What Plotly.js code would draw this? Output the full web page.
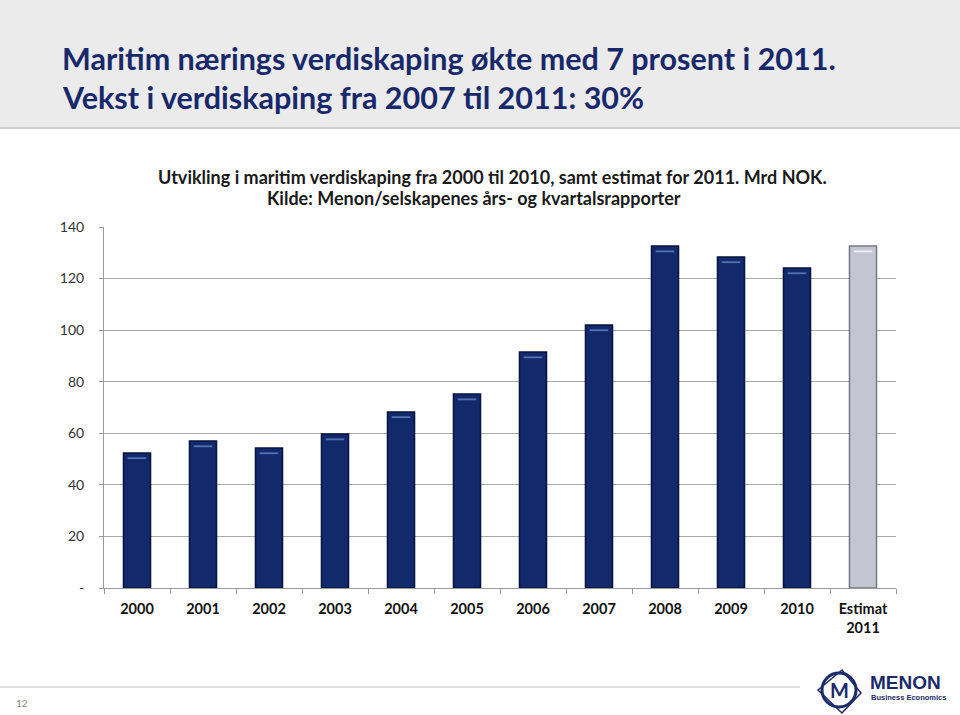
<!DOCTYPE html>
<html>
<head>
<meta charset="utf-8">
<script src="https://cdn.plot.ly/plotly-3.0.1.min.js"></script>
<style>html,body{margin:0;padding:0;background:#fff;}#chart{width:960px;height:715px;}</style>
</head>
<body>
<div id="chart"></div>
<script>
// Data
const categories = ["2000","2001","2002","2003","2004","2005","2006","2007","2008","2009","2010","Estimat<br>2011"];
const values = [52.4, 57.0, 54.3, 59.7, 68.3, 75.2, 91.5, 102.0, 132.6, 128.4, 124.1, 132.6];
const estimateFlags = [false,false,false,false,false,false,false,false,false,false,false,true];
const yTickValues = [0, 20, 40, 60, 80, 100, 120, 140];
const yTickLabels = ["-", "20", "40", "60", "80", "100", "120", "140"];

const W = 960, H = 715;
const L = 104, R = 896, T = 227, B = 588;
const px = X => (X - L) / (R - L);
const py = Y => (B - Y) / (B - T);

const barColors = estimateFlags.map(f => f ? "#c4c5d2" : "#122a6c");
const barLines = estimateFlags.map(f => f ? "#77787f" : "#07143d");
const capColors = estimateFlags.map(f => f ? "rgba(245,245,250,0.9)" : "rgba(110,140,200,0.75)");

const trace = {
  type: "bar",
  x: categories,
  y: values,
  width: 0.41,
  marker: { color: barColors, line: { color: barLines, width: 1.5 } },
  hoverinfo: "x+y"
};

// bevel highlight near each bar's top, derived from the values
const capTrace = {
  type: "bar",
  x: categories,
  y: values.map(() => 0.7),
  base: values.map(v => v - 2.4),
  width: 0.28,
  marker: { color: capColors, line: { width: 0 } },
  hoverinfo: "skip"
};

const font = "Lato, 'Open Sans', sans-serif";

const layout = {
  width: W, height: H,
  margin: { l: L, r: W - R, t: T, b: H - B, pad: 0 },
  paper_bgcolor: "#ffffff",
  plot_bgcolor: "#ffffff",
  showlegend: false,
  barmode: "overlay",
  font: { family: font, color: "#222" },
  xaxis: {
    type: "category",
    showgrid: false,
    showline: true, linecolor: "#9a9a9a", linewidth: 1,
    ticks: "outside", ticklen: 5, tickcolor: "#9a9a9a",
    tickson: "boundaries",
    ticklabelstandoff: 8,
    tickfont: { family: font, size: 14.5, color: "#111", weight: "bold" },
    fixedrange: true
  },
  yaxis: {
    range: [0, 140],
    tickvals: yTickValues,
    ticktext: yTickLabels,
    showgrid: true, gridcolor: "#a8a8a8", gridwidth: 1.2,
    showline: true, linecolor: "#9a9a9a", linewidth: 1,
    ticks: "outside", ticklen: 4, tickcolor: "#9a9a9a",
    ticklabelstandoff: 12,
    tickfont: { family: font, size: 14, color: "#333" },
    zeroline: false,
    fixedrange: true
  },
  shapes: [
    // header band
    { type: "rect", xref: "paper", yref: "paper", x0: px(0), x1: px(W), y0: py(128), y1: py(0),
      fillcolor: "#ebebeb", line: { width: 0 }, layer: "below" },
    { type: "line", xref: "paper", yref: "paper", x0: px(0), x1: px(W), y0: py(128), y1: py(128),
      line: { color: "#cfcfcf", width: 2 } },
    // footer line
    { type: "line", xref: "paper", yref: "paper", x0: px(0), x1: px(800), y0: py(687), y1: py(687),
      line: { color: "#d6d6d6", width: 1.5 } },
    // logo
    { type: "circle", xref: "paper", yref: "paper", x0: px(822), x1: px(856), y0: py(707), y1: py(673),
      line: { color: "#1b2a6b", width: 3 }, fillcolor: "rgba(0,0,0,0)" },
    { type: "path", xref: "paper", yref: "paper",
      path: `M ${px(818)} ${py(690)} L ${px(842)} ${py(670)} L ${px(861)} ${py(693)} L ${px(842)} ${py(713)} Z`,
      line: { color: "#1b2a6b", width: 1.5 } }
  ],
  annotations: [
    { xref: "paper", yref: "paper", x: px(60), y: py(58), xanchor: "left", yanchor: "middle",
      text: "<b>Maritim nærings verdiskaping økte med 7 prosent i 2011.</b>", showarrow: false,
      font: { family: font, size: 30.5, color: "#17286b" } },
    { xref: "paper", yref: "paper", x: px(60), y: py(97), xanchor: "left", yanchor: "middle",
      text: "<b>Vekst i verdiskaping fra 2007 til 2011: 30%</b>", showarrow: false,
      font: { family: font, size: 30.5, color: "#17286b" } },
    { xref: "paper", yref: "paper", x: px(492), y: py(177), xanchor: "center", yanchor: "middle",
      text: "<b>Utvikling i maritim verdiskaping fra 2000 til 2010, samt estimat for 2011. Mrd NOK.</b>", showarrow: false,
      font: { family: font, size: 18, color: "#1a1a1a" } },
    { xref: "paper", yref: "paper", x: px(474), y: py(198), xanchor: "center", yanchor: "middle",
      text: "<b>Kilde: Menon/selskapenes års- og kvartalsrapporter</b>", showarrow: false,
      font: { family: font, size: 18, color: "#1a1a1a" } },
    { xref: "paper", yref: "paper", x: px(22), y: py(703), xanchor: "center", yanchor: "middle",
      text: "12", showarrow: false, font: { family: font, size: 10, color: "#888" } },
    { xref: "paper", yref: "paper", x: px(839), y: py(690), xanchor: "center", yanchor: "middle",
      text: "<b>M</b>", showarrow: false, font: { family: font, size: 20, color: "#1b2a6b" } },
    { xref: "paper", yref: "paper", x: px(868), y: py(682), xanchor: "left", yanchor: "middle",
      text: "<b>MENON</b>", showarrow: false, font: { family: "'Liberation Sans', sans-serif", size: 19, color: "#1b2a6b" } },
    { xref: "paper", yref: "paper", x: px(869), y: py(697), xanchor: "left", yanchor: "middle",
      text: "<b>Business Economics</b>", showarrow: false, font: { family: "'Liberation Sans', sans-serif", size: 7.5, color: "#1b2a6b" } }
  ]
};

Plotly.newPlot("chart", [trace, capTrace], layout, { displayModeBar: false, staticPlot: true });
</script>
</body>
</html>
